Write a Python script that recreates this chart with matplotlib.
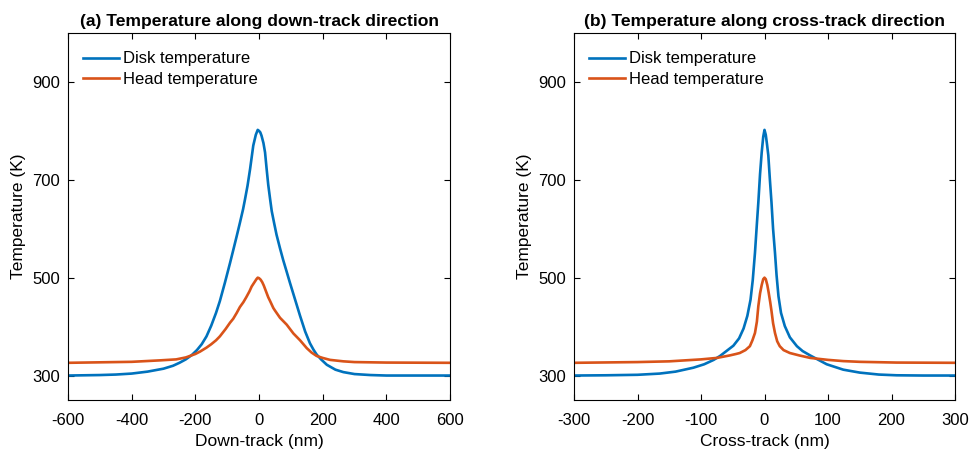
import matplotlib
matplotlib.use("Agg")
import matplotlib.pyplot as plt

plt.rcParams['font.family'] = ['Liberation Sans', 'DejaVu Sans']

# ---- data ----
down_disk_x = [-600, -500, -450, -400, -350, -300, -270, -250, -230, -211, -195, -180, -165,
               -150, -135, -123, -107, -91, -81, -70, -60, -50, -44, -36, -28, -18, -10, -4,
               0, 4, 8, 14, 19, 24, 29, 35, 40, 48, 55, 66, 76, 87, 97, 113, 129, 145, 160,
               171, 181, 195, 213, 240, 265, 300, 350, 400, 600]
down_disk = [300, 301, 302, 304, 308, 314, 320, 326, 333, 342, 352, 364, 380,
             402, 428, 452, 490, 530, 556, 585, 612, 640, 660, 688, 722, 770, 792, 802,
             800, 797, 790, 775, 756, 722, 690, 660, 636, 610, 588, 560, 536, 512, 490, 456, 422, 390, 366,
             353, 343, 333, 322, 312, 307, 303, 301, 300, 300]

down_head_x = [-600, -500, -400, -311, -260, -230, -217, -200, -185, -165, -150, -135, -123,
               -105, -91, -81, -70, -60, -49, -40, -30, -23, -15, -8, -4, 0, 5, 10, 15, 22,
               29, 35, 45, 50, 66, 87, 108, 129, 150, 165, 181, 200, 223, 265, 300, 400, 600]
down_head = [326, 327, 328, 331, 333, 337, 340, 344, 349, 357, 364, 372, 380,
             395, 408, 416, 428, 440, 450, 460, 472, 482, 490, 497, 500, 499, 496, 491, 484, 472,
             460, 452, 438, 433, 418, 404, 386, 372, 356, 347, 340, 336, 332, 329, 327.5, 326.5, 326]

cross_disk_x = [-300, -250, -200, -165, -140, -112, -95, -80, -70, -60, -49, -40, -33, -27,
                -22, -18.5, -15, -12, -9.7, -7, -4.4, -2, 0, 2, 4, 6, 8.5, 11, 13.5, 16.5, 19,
                22, 26, 32, 40, 51, 60, 72, 85, 98, 124, 150, 180, 208, 250, 300]
cross_disk = [300, 300.5, 301.5, 304, 308, 316, 323, 332, 340, 350, 361, 376, 396, 422,
              455, 495, 551, 610, 654, 712, 756, 788, 802, 792, 772, 750, 700, 654, 600, 551, 505,
              462, 428, 401, 378, 360, 350, 341, 332, 323, 312, 306, 302, 300.5, 300, 300]

cross_head_x = [-300, -200, -150, -100, -75, -55, -45, -39, -30, -23, -19, -15, -12, -9.7,
                -7, -4.4, -2, 0, 2, 4.4, 6.5, 9, 11, 13.5, 16.5, 20, 24, 30, 40, 55, 72, 100,
                124, 150, 208, 300]
cross_head = [326, 327.5, 329, 333, 336, 341, 344, 346, 352, 360, 372, 387, 410, 442,
              468, 485, 497, 500, 497, 485, 470, 450, 432, 407, 387, 370, 360, 352, 346, 341, 336, 332,
              329.5, 328, 326.5, 326]

x_ticks_a = [-600, -400, -200, 0, 200, 400, 600]
x_ticks_b = [-300, -200, -100, 0, 100, 200, 300]
y_ticks = [300, 500, 700, 900]

blue = '#0072BD'
orange = '#D95319'

fig = plt.figure(figsize=(9.69, 4.51), dpi=100)
ax1 = fig.add_axes([68/969, 1-400/451, 382/969, 367/451])
ax2 = fig.add_axes([574/969, 1-400/451, 381/969, 367/451])

panels = [
    (ax1, down_disk_x, down_disk, down_head_x, down_head, x_ticks_a, (-600, 600),
     '(a) Temperature along down-track direction', 'Down-track (nm)'),
    (ax2, cross_disk_x, cross_disk, cross_head_x, cross_head, x_ticks_b, (-300, 300),
     '(b) Temperature along cross-track direction', 'Cross-track (nm)'),
]

for ax, xd, d, xh, h, xt, xl, title, xlabel in panels:
    ax.plot(xd, d, color=blue, lw=1.9, label='Disk temperature')
    ax.plot(xh, h, color=orange, lw=1.9, label='Head temperature')
    ax.set_xlim(*xl)
    ax.set_ylim(250, 1000)
    ax.set_xticks(xt)
    ax.set_xticklabels([str(v) for v in xt])
    ax.set_yticks(y_ticks)
    ax.tick_params(direction='in', top=True, right=True, length=4, width=0.8,
                   labelsize=12, colors='black')
    ax.tick_params(axis='x', pad=9.5)
    ax.tick_params(axis='y', pad=6)
    for s in ax.spines.values():
        s.set_linewidth(0.8)
    ax.set_title(title, fontsize=12.6, fontweight='bold', pad=5)
    ax.set_xlabel(xlabel, fontsize=12.5, labelpad=4)
    ax.set_ylabel('Temperature (K)', fontsize=12.5, labelpad=4)
    ax.legend(loc='upper left', bbox_to_anchor=(-0.01, 1.0), frameon=False, fontsize=12,
              handlelength=2.2, handletextpad=0.2, labelspacing=0.33,
              borderaxespad=0.7)

fig.savefig('out.png', dpi=100)
